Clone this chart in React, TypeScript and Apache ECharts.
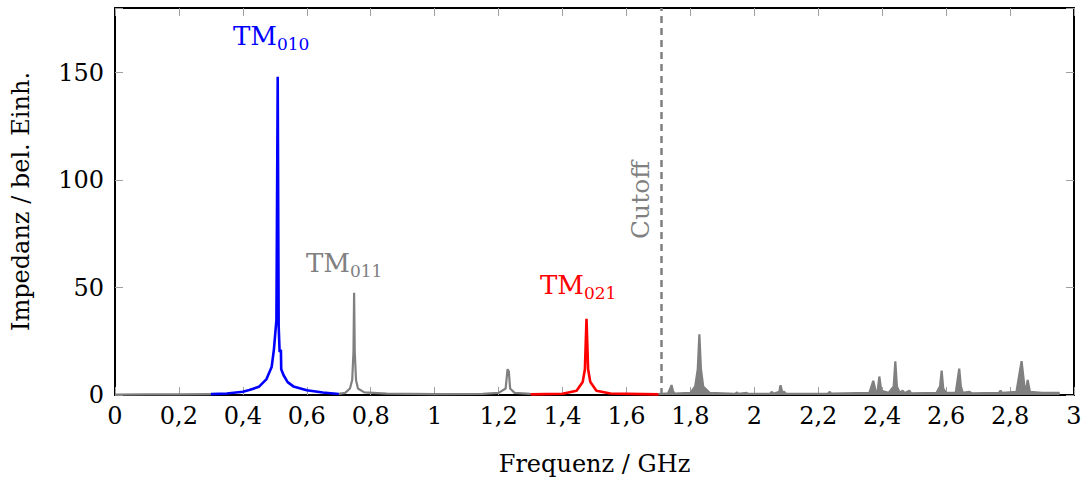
import React, { useEffect, useRef } from "react";
import * as echarts from "echarts";

// ---- data (GHz, arbitrary impedance units) ----
const xTicksInterval = 0.2;
const yTicks = [0, 50, 100, 150];
const cutoffGHz = 1.712;

const grayLow: [number, number][] = [
  [0.0, 0.2], [0.1, 0.25], [0.2, 0.3], [0.3, 0.4],
];

const blueTM010: [number, number][] = [
  [0.30, 0.4], [0.35, 0.7], [0.40, 1.5], [0.42, 2.3], [0.45, 3.8], [0.474, 7.4],
  [0.49, 13], [0.497, 21], [0.505, 35], [0.509, 148], [0.512, 32], [0.515, 20],
  [0.519, 21], [0.520, 12], [0.527, 9.3], [0.54, 6], [0.558, 4], [0.60, 2.2],
  [0.65, 1.2], [0.70, 0.5],
];

const grayMid: [number, number][] = [
  [0.70, 0.5], [0.72, 1], [0.735, 3], [0.742, 7], [0.746, 20], [0.748, 47.5],
  [0.750, 20], [0.754, 7], [0.76, 3], [0.78, 1.2], [0.85, 0.6], [1.0, 0.4],
  [1.15, 0.5], [1.2, 1], [1.222, 3], [1.228, 12], [1.232, 11], [1.236, 3],
  [1.25, 1], [1.3, 0.5],
];

const redTM021: [number, number][] = [
  [1.30, 0.3], [1.40, 0.6], [1.444, 2], [1.463, 6], [1.470, 12], [1.475, 35.5],
  [1.480, 12], [1.487, 6], [1.506, 2], [1.55, 0.7], [1.70, 0.3],
];

const grayHigh: [number, number][] = [
  [1.70, 0.4], [1.73, 0.8], [1.737, 3], [1.741, 4.6], [1.745, 2], [1.75, 0.7],
  [1.80, 1], [1.815, 4], [1.823, 12], [1.828, 28.2], [1.833, 12], [1.84, 4],
  [1.86, 1], [1.94, 0.5], [1.946, 1.2], [1.95, 0.5], [1.976, 1], [1.98, 0.5],
  [2.05, 0.6], [2.054, 1.5], [2.06, 0.6], [2.078, 1.5], [2.082, 4.5], [2.087, 1.5],
  [2.093, 1.5], [2.1, 0.5], [2.23, 0.6], [2.236, 1.5], [2.24, 0.6], [2.36, 1],
  [2.372, 6.6], [2.38, 1.5], [2.386, 2], [2.391, 8.6], [2.397, 2], [2.42, 1],
  [2.436, 4], [2.441, 15.7], [2.446, 4], [2.455, 1], [2.464, 2], [2.47, 0.8],
  [2.485, 2], [2.49, 0.8], [2.57, 1], [2.581, 4], [2.586, 11.3], [2.591, 3],
  [2.6, 1], [2.63, 1], [2.641, 12.3], [2.646, 4], [2.652, 1], [2.672, 1.5],
  [2.68, 0.8], [2.765, 1], [2.77, 2], [2.775, 1], [2.82, 1.5], [2.836, 15.7],
  [2.845, 4], [2.85, 2], [2.855, 7], [2.862, 1.5], [2.9, 1], [2.955, 1],
];

const FONT = "DejaVu Serif";
const GRAY = "#808080";

function fmtX(v: number): string {
  return String(Number(v.toFixed(1))).replace(".", ",");
}

function modeLabel(x: number, y: number, sub: string, color: string) {
  return {
    type: "text",
    x,
    y,
    style: {
      text: `{m|TM}{s|${sub}}`,
      align: "left",
      verticalAlign: "middle",
      fill: color,
      rich: {
        m: { fontFamily: FONT, fontSize: 26, fill: color, verticalAlign: "middle" },
        s: { fontFamily: FONT, fontSize: 17, fill: color, verticalAlign: "middle", padding: [16, 0, 0, 0] },
      },
    },
  };
}

export default function App() {
  const ref = useRef<HTMLDivElement>(null);
  useEffect(() => {
    if (!ref.current) return;
    const chart = echarts.init(ref.current, null, { renderer: "svg" });
    const tickStyle = { show: true, inside: true, length: 8, lineStyle: { color: "#a0a0a0", width: 1 } };
    const frame = { show: true, onZero: false, lineStyle: { color: "#000", width: 2 } };
    const lineSeries = (data: [number, number][], color: string, width: number, z: number, area = false) => ({
      type: "line",
      data,
      showSymbol: false,
      symbol: "none",
      xAxisIndex: 0,
      yAxisIndex: 0,
      lineStyle: { color, width },
      itemStyle: { color },
      areaStyle: area ? { color, opacity: 1 } : undefined,
      z,
      silent: true,
    });
    chart.setOption({
      animation: false,
      grid: { left: 115, right: 14, top: 8, bottom: 85, containLabel: false },
      xAxis: [
        {
          type: "value", min: 0, max: 3, interval: xTicksInterval, position: "bottom",
          axisLine: frame, axisTick: tickStyle, splitLine: { show: false },
          axisLabel: { formatter: fmtX, color: "#000", fontFamily: FONT, fontSize: 24, margin: 9 },
          name: "Frequenz / GHz", nameLocation: "middle", nameGap: 57,
          nameTextStyle: { color: "#000", fontFamily: FONT, fontSize: 24 },
        },
        {
          type: "value", min: 0, max: 3, interval: xTicksInterval, position: "top",
          axisLine: frame, axisTick: tickStyle, splitLine: { show: false }, axisLabel: { show: false },
        },
      ],
      yAxis: [
        {
          type: "value", min: 0, max: 180, interval: 50, position: "left",
          axisLine: frame, axisTick: tickStyle, splitLine: { show: false },
          axisLabel: {
            formatter: (v: number) => (yTicks.includes(v) ? String(v) : ""),
            color: "#000", fontFamily: FONT, fontSize: 24, margin: 11,
          },
          name: "Impedanz / bel. Einh.", nameLocation: "middle", nameGap: 82,
          nameTextStyle: { color: "#000", fontFamily: FONT, fontSize: 24 },
        },
        {
          type: "value", min: 0, max: 180, interval: 50, position: "right",
          axisLine: frame, axisTick: tickStyle, splitLine: { show: false }, axisLabel: { show: false },
        },
      ],
      series: [
        {
          ...lineSeries(grayLow, GRAY, 2.2, 2),
          markLine: {
            silent: true,
            symbol: "none",
            lineStyle: { color: GRAY, width: 2.5, type: [7, 5] },
            label: { show: false },
            data: [{ xAxis: cutoffGHz }],
          },
        },
        lineSeries(grayMid, GRAY, 2.2, 2),
        lineSeries(grayHigh, GRAY, 2.2, 2, true),
        lineSeries(blueTM010, "#0000ff", 2.6, 3),
        lineSeries(redTM021, "#ff0000", 2.6, 3),
      ],
      graphic: [
        modeLabel(233, 36, "010", "#0000ff"),
        modeLabel(306, 263, "011", GRAY),
        modeLabel(540, 285, "021", "#ff0000"),
        {
          type: "text",
          x: 640,
          y: 200,
          rotation: Math.PI / 2,
          style: {
            text: "Cutoff",
            align: "center",
            verticalAlign: "middle",
            fill: GRAY,
            fontFamily: FONT,
            fontSize: 25,
          },
        },
      ],
    });
    return () => chart.dispose();
  }, []);
  return <div ref={ref} style={{ width: 1088, height: 481, position: "absolute", left: 0, top: 0 }} />;
}
